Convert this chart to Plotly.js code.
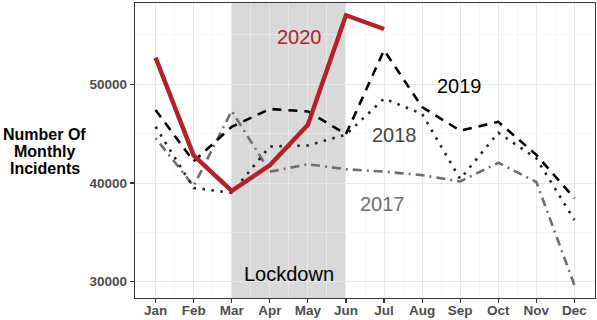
<!DOCTYPE html>
<html><head><meta charset="utf-8">
<script src="https://cdn.plot.ly/plotly-3.0.1.min.js"></script>
<style>html,body{margin:0;padding:0;background:#fff}</style>
</head><body><div id="chart" style="width:597px;height:320px"></div>
<script>
const months = ['Jan','Feb','Mar','Apr','May','Jun','Jul','Aug','Sep','Oct','Nov','Dec'];
const y2017 = [44550, 39700, 47300, 41150, 41900, 41400, 41150, 40800, 40150, 42050, 40100, 29650];
const y2018 = [45700, 39500, 39000, 43700, 43800, 44900, 48550, 47000, 40400, 45100, 42500, 36250];
const y2019 = [47400, 42200, 45700, 47500, 47250, 44950, 53450, 47700, 45300, 46200, 42850, 38450];
const y2020 = [52700, 42800, 39200, 41800, 45900, 57000, 55600];
const yTicks = [30000, 40000, 50000];
const lockdownStart = 'Mar', lockdownEnd = 'Jun';

const xi = arr => arr.map((v, i) => i + 1);
const font = 'Liberation Sans, Arial, sans-serif';

const traces = [
  {x: xi(y2017), y: y2017, mode: 'lines', line: {color: '#6e6e6e', width: 2.6, dash: '2px,5px,9px,5px'}},
  {x: xi(y2018), y: y2018, mode: 'lines', line: {color: '#222222', width: 2.6, dash: '2.5px,6.5px'}},
  {x: xi(y2019), y: y2019, mode: 'lines', line: {color: '#000000', width: 2.6, dash: '9px,7px'}},
  {x: xi(y2020), y: y2020, mode: 'lines', line: {color: '#b22228', width: 4.4}}
];

const tickIdx = months.map((m, i) => i + 1);
const minorX = months.slice(0, -1).map((m, i) => i + 1.5);

const layout = {
  width: 597, height: 320,
  margin: {l: 135, r: 2, t: 3, b: 22},
  paper_bgcolor: '#fff', plot_bgcolor: '#fff',
  showlegend: false,
  font: {family: font},
  xaxis: {
    range: [0.46, 12.54], tickmode: 'array', tickvals: tickIdx, ticktext: months,
    showgrid: true, gridcolor: '#e8e8e8', gridwidth: 1,
    minor: {tickvals: minorX, showgrid: true, gridcolor: '#f1f1f1', gridwidth: 0.6, ticks: ''},
    zeroline: false, showline: true, linecolor: '#333', linewidth: 1.2, mirror: true,
    ticks: 'outside', ticklen: 4, tickcolor: '#333', tickwidth: 1.1, ticklabelstandoff: -4,
    tickfont: {family: font, size: 13.5, color: '#4d4d4d', weight: 'bold'}
  },
  yaxis: {
    range: [28349, 58237], tickmode: 'array', tickvals: yTicks, ticktext: yTicks.map(String),
    showgrid: true, gridcolor: '#e8e8e8', gridwidth: 1,
    minor: {tickvals: [35000, 45000, 55000], showgrid: true, gridcolor: '#f1f1f1', gridwidth: 0.6, ticks: ''},
    zeroline: false, showline: true, linecolor: '#333', linewidth: 1.2, mirror: true,
    ticks: 'outside', ticklen: 4, tickcolor: '#333', tickwidth: 1.1,
    tickfont: {family: font, size: 13.5, color: '#4d4d4d', weight: 'bold'}
  },
  shapes: [{
    type: 'rect', xref: 'x', yref: 'paper',
    x0: months.indexOf(lockdownStart) + 1, x1: months.indexOf(lockdownEnd) + 1, y0: 0, y1: 1,
    fillcolor: 'rgba(120,120,120,0.28)', line: {width: 0}, layer: 'below'
  }],
  annotations: [
    {x: 4.774, y: 54800, xref: 'x', yref: 'y', text: '2020', showarrow: false, font: {family: font, size: 20, color: '#b22228'}},
    {x: 8.974, y: 49800, xref: 'x', yref: 'y', text: '2019', showarrow: false, font: {family: font, size: 20, color: '#000000'}},
    {x: 7.281, y: 44850, xref: 'x', yref: 'y', text: '2018', showarrow: false, font: {family: font, size: 20, color: '#444444'}},
    {x: 6.966, y: 37850, xref: 'x', yref: 'y', text: '2017', showarrow: false, font: {family: font, size: 20, color: '#6e6e6e'}},
    {x: 4.5, y: 30800, xref: 'x', yref: 'y', text: 'Lockdown', showarrow: false, font: {family: font, size: 20, color: '#000000'}},
    {x: -0.196, y: (298 - 134) / 295, xref: 'paper', yref: 'paper', xanchor: 'center', yanchor: 'middle', text: 'Number Of', showarrow: false, font: {family: font, size: 16, color: '#000', weight: 'bold'}},
    {x: -0.196, y: (298 - 151) / 295, xref: 'paper', yref: 'paper', xanchor: 'center', yanchor: 'middle', text: 'Monthly', showarrow: false, font: {family: font, size: 16, color: '#000', weight: 'bold'}},
    {x: -0.196, y: (298 - 168.5) / 295, xref: 'paper', yref: 'paper', xanchor: 'center', yanchor: 'middle', text: 'Incidents', showarrow: false, font: {family: font, size: 16, color: '#000', weight: 'bold'}}
  ]
};

Plotly.newPlot('chart', traces, layout, {staticPlot: true, displayModeBar: false});
</script></body></html>
